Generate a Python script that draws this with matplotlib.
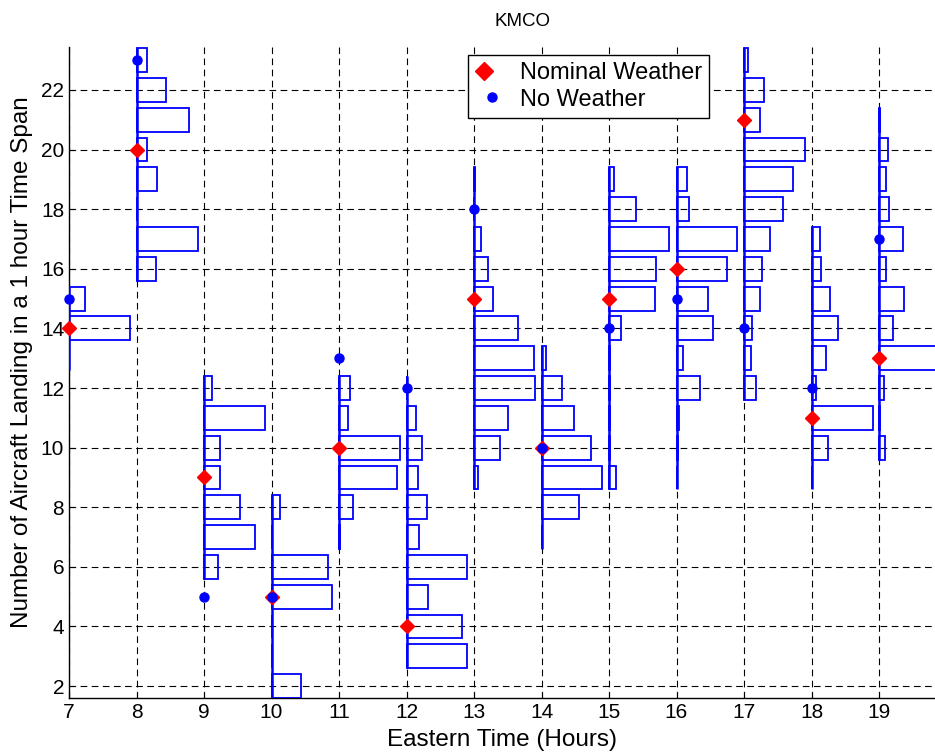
import matplotlib
matplotlib.use('Agg')
import matplotlib.pyplot as plt
from matplotlib.lines import Line2D
from matplotlib.legend_handler import HandlerTuple

plt.rcParams['font.family'] = ['Liberation Sans', 'DejaVu Sans']

# hours of the day (Eastern Time)
hours = [7, 8, 9, 10, 11, 12, 13, 14, 15, 16, 17, 18, 19]

# lowest bin (landings per hour) of each hourly histogram
bin_start = [13, 16, 6, 2, 7, 3, 9, 7, 9, 9, 12, 9, 10]

# relative frequency of each bin, from bin_start upwards
freq = [
    [0.00, 0.90, 0.23],
    [0.29, 0.91, 0.00, 0.30, 0.15, 0.78, 0.43, 0.16],
    [0.20, 0.75, 0.54, 0.24, 0.24, 0.91, 0.12],
    [0.44, 0.00, 0.01, 0.90, 0.84, 0.01, 0.13],
    [0.01, 0.20, 0.86, 0.90, 0.13, 0.16],
    [0.89, 0.82, 0.32, 0.90, 0.19, 0.30, 0.17, 0.23, 0.14, 0.00],
    [0.06, 0.39, 0.51, 0.90, 0.89, 0.65, 0.28, 0.20, 0.10, 0.00, 0.02],
    [0.01, 0.56, 0.90, 0.73, 0.48, 0.31, 0.06],
    [0.11, 0.01, 0.01, 0.01, 0.02, 0.18, 0.68, 0.70, 0.89, 0.40, 0.08],
    [0.01, 0.02, 0.04, 0.35, 0.09, 0.54, 0.47, 0.75, 0.89, 0.19, 0.16],
    [0.18, 0.10, 0.12, 0.23, 0.26, 0.39, 0.58, 0.73, 0.91, 0.23, 0.30, 0.06],
    [0.00, 0.24, 0.91, 0.06, 0.22, 0.40, 0.27, 0.14, 0.12],
    [0.09, 0.02, 0.07, 0.90, 0.21, 0.37, 0.10, 0.36, 0.15, 0.11, 0.14, 0.01],
]

nominal = [14, 20, 9, 5, 10, 4, 15, 10, 15, 16, 21, 11, 13]
no_weather = [15, 23, 5, 5, 13, 12, 18, 10, 14, 15, 14, 12, 17]

fig = plt.figure(figsize=(9.35, 7.55), dpi=100)
ax = fig.add_axes([69/935, 57/755, 1 - 69/935, 651/755])

for h, b0, f in zip(hours, bin_start, freq):
    bins = [b0 + i for i in range(len(f))]
    ax.barh(bins, f, height=0.8, left=h, fill=False, edgecolor='#0000ff', linewidth=1.3, zorder=3)
    ax.vlines(h, bins[0] - 0.4, bins[-1] + 0.4, color='#0000ff', linewidth=1.8, zorder=3)

ax.plot(hours, nominal, linestyle='None', marker='D', ms=7.5, color='#ff0000', mec='#ff0000',
        zorder=4, clip_on=False)
ax.plot(hours, no_weather, linestyle='None', marker='o', ms=6.5, color='#0000ff', mec='#0000ff',
        zorder=5, clip_on=False)

ax.set_xlim(7, 7 + 866/67.5)
ax.set_ylim(1.6, 23.44)
ax.set_xticks(hours)
ax.set_yticks(range(2, 23, 2))
ax.tick_params(direction='in', length=4, labelsize=15, colors='black')
ax.grid(True, color='black', linestyle=(0, (6, 4)), linewidth=0.8)
ax.set_axisbelow(True)
for s in ['top', 'right']:
    ax.spines[s].set_visible(False)
for s in ['left', 'bottom']:
    ax.spines[s].set_linewidth(1.0)

fig.text(523/935, 1 - 21/755, 'KMCO', fontsize=13.5, ha='center', va='center')
ax.set_xlabel('Eastern Time (Hours)', fontsize=17.5, labelpad=5)
ax.set_ylabel('Number of Aircraft Landing in a 1 hour Time Span', fontsize=17.5)
ax.yaxis.set_label_coords(-0.042, 0.516)

h_nom = (Line2D([], [], linestyle='None', marker='D', ms=9, color='#ff0000'),
         Line2D([], [], linestyle='None', marker='o', ms=2.5, color='white'))
h_no = Line2D([], [], linestyle='None', marker='o', ms=6.5, color='#0000ff')
leg = ax.legend([h_nom, h_no], ['Nominal Weather', 'No Weather'],
                handler_map={tuple: HandlerTuple(ndivide=None, pad=0)},
                loc='upper left', bbox_to_anchor=(0.461, 0.988), borderaxespad=0,
                fontsize=17, fancybox=False, edgecolor='black', framealpha=1,
                handlelength=1.4, handletextpad=0.5, labelspacing=0.2,
                borderpad=0.3)
leg.get_frame().set_linewidth(1.0)
leg.set_zorder(6)

fig.savefig('out.png', dpi=100)
